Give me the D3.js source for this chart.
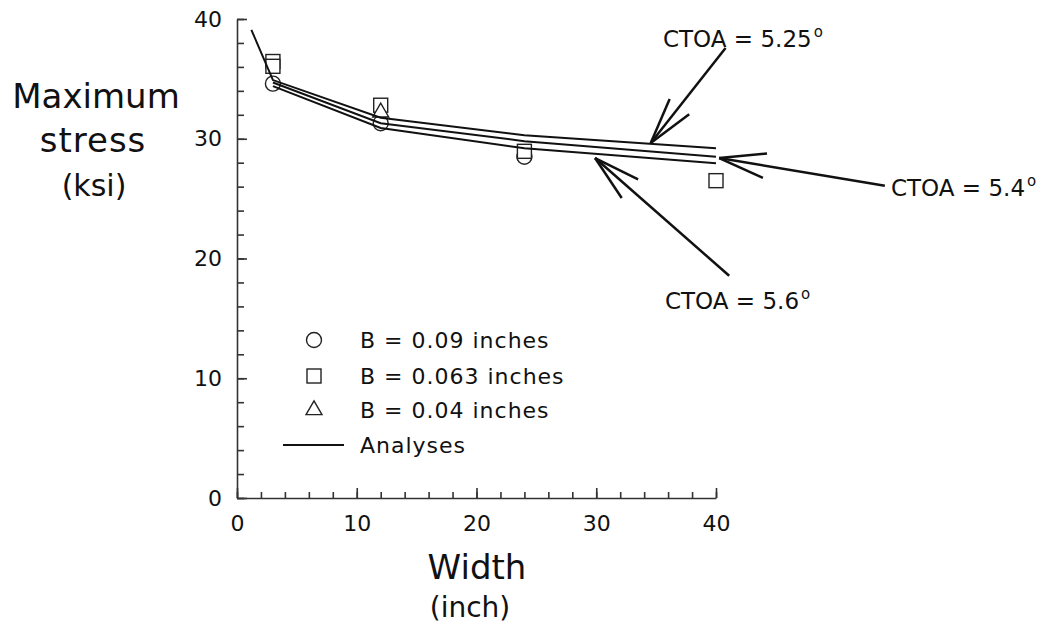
<!DOCTYPE html>
<html>
<head>
<meta charset="utf-8">
<script src="https://cdn.jsdelivr.net/npm/d3@7"></script>
<style>
  body { margin: 0; background: #fff; }
  svg text { font-family: "DejaVu Sans", sans-serif; fill: #111; }
</style>
</head>
<body>
<svg id="chart" width="1057" height="627"></svg>
<script>
// analysis curves (width in inch, max stress in ksi)
var curve525 = [[1.2, 39.1], [3, 34.9], [12, 31.75], [24, 30.3], [40, 29.2]];
var curve54  = [[3, 34.7], [12, 31.3], [24, 29.8], [40, 28.5]];
var curve56  = [[3, 34.4], [12, 30.9], [24, 29.2], [40, 27.95]];

// test data
var b009  = [[3, 34.6], [12, 31.3], [24, 28.5]];
var b0063 = [[3, 36.45], [3, 36.05], [12, 32.8], [24, 28.95], [40, 26.5]];
var b004  = [[12, 32.2]];

var xTicks = [0, 10, 20, 30, 40];
var yTicks = [0, 10, 20, 30, 40];

// annotations: label, arrow tip, arrow tail (data units)
var notes = [
  {label: "CTOA = 5.25", tip: [34.55, 29.64], tail: [40.8, 37.58]},
  {label: "CTOA = 5.4",  tip: [40.27, 28.39], tail: [54.1, 26.08]},
  {label: "CTOA = 5.6",  tip: [29.9, 28.39],  tail: [41.1, 18.56]}
];

var svg = d3.select("#chart");

var x = d3.scaleLinear().domain([0, 40]).range([237, 716]);
var y = d3.scaleLinear().domain([0, 40]).range([498, 19]);

var axisColor = "#333";

// minor ticks
svg.append("g")
    .attr("transform", "translate(0," + y(0) + ")")
    .call(d3.axisBottom(x).tickValues(d3.range(0, 41, 2)).tickSize(-6).tickSizeOuter(0).tickFormat(""))
    .call(function(g){ g.select(".domain").remove(); });
svg.append("g")
    .attr("transform", "translate(" + x(0) + ",0)")
    .call(d3.axisLeft(y).tickValues(d3.range(0, 41, 2)).tickSize(-7).tickSizeOuter(0).tickFormat(""))
    .call(function(g){ g.select(".domain").remove(); });

// main axes
var gx = svg.append("g")
    .attr("transform", "translate(0," + y(0) + ")")
    .call(d3.axisBottom(x).tickValues(xTicks).tickSize(-10).tickSizeOuter(0).tickPadding(17));
var gy = svg.append("g")
    .attr("transform", "translate(" + x(0) + ",0)")
    .call(d3.axisLeft(y).tickValues(yTicks).tickSize(-10).tickSizeOuter(0).tickPadding(15));

[gx, gy].forEach(function(g){
  g.selectAll("path, line").attr("stroke", axisColor).attr("stroke-width", 1.6);
  g.selectAll("text").style("font-size", "22px").style("font-family", "DejaVu Sans").attr("fill", "#111");
});
svg.selectAll("g line").attr("stroke", axisColor).attr("stroke-width", 1.6);

// markers (white filled, drawn under the curves)
var markers = svg.append("g");
markers.selectAll("circle.b009").data(b009).enter().append("circle")
    .attr("cx", function(d){ return x(d[0]); })
    .attr("cy", function(d){ return y(d[1]); })
    .attr("r", 7.5)
    .attr("fill", "#fff").attr("stroke", "#222").attr("stroke-width", 1.4);
markers.selectAll("rect.b0063").data(b0063).enter().append("rect")
    .attr("x", function(d){ return x(d[0]) - 7; })
    .attr("y", function(d){ return y(d[1]) - 7; })
    .attr("width", 14).attr("height", 14)
    .attr("fill", "#fff").attr("stroke", "#222").attr("stroke-width", 1.4);
var tri = d3.symbol().type(d3.symbolTriangle).size(110);
markers.selectAll("path.b004").data(b004).enter().append("path")
    .attr("d", tri)
    .attr("transform", function(d){ return "translate(" + x(d[0]) + "," + y(d[1]) + ")"; })
    .attr("fill", "#fff").attr("stroke", "#222").attr("stroke-width", 1.4);

// analysis curves
var line = d3.line().x(function(d){ return x(d[0]); }).y(function(d){ return y(d[1]); });
[curve525, curve54, curve56].forEach(function(c){
  svg.append("path").datum(c)
      .attr("d", line)
      .attr("fill", "none").attr("stroke", "#111").attr("stroke-width", 2);
});

// annotation arrows
var headLen = 48, headAng = 15 * Math.PI / 180;
notes.forEach(function(n){
  var tx = x(n.tip[0]), ty = y(n.tip[1]);
  var sx = x(n.tail[0]), sy = y(n.tail[1]);
  var a = Math.atan2(sy - ty, sx - tx);
  var g = svg.append("g").attr("stroke", "#111").attr("stroke-width", 2.5).attr("fill", "none");
  g.append("line").attr("x1", sx).attr("y1", sy).attr("x2", tx).attr("y2", ty);
  [-headAng, headAng].forEach(function(da){
    g.append("line").attr("x1", tx).attr("y1", ty)
        .attr("x2", tx + headLen * Math.cos(a + da))
        .attr("y2", ty + headLen * Math.sin(a + da));
  });
});

// annotation labels
function noteLabel(txt, px, py) {
  var t = svg.append("text").attr("x", px).attr("y", py).style("font-size", "23px");
  t.append("tspan").text(txt);
  t.append("tspan").attr("dy", -10).attr("dx", 2).style("font-size", "15px").text("o");
}
noteLabel(notes[0].label, 663, 47);
noteLabel(notes[1].label, 891, 196);
noteLabel(notes[2].label, 665, 309);

// axis titles
svg.append("text").attr("x", 96).attr("y", 108).attr("text-anchor", "middle").style("font-size", "34px").text("Maximum");
svg.append("text").attr("x", 93).attr("y", 152).attr("text-anchor", "middle").style("font-size", "34px").style("letter-spacing", "1px").text("stress");
svg.append("text").attr("x", 94).attr("y", 196).attr("text-anchor", "middle").style("font-size", "30px").text("(ksi)");
svg.append("text").attr("x", 477).attr("y", 579).attr("text-anchor", "middle").style("font-size", "34px").text("Width");
svg.append("text").attr("x", 470).attr("y", 617).attr("text-anchor", "middle").style("font-size", "28px").text("(inch)");

// legend
var legendItems = [
  {label: "B = 0.09 inches",  kind: "circle"},
  {label: "B = 0.063 inches", kind: "square"},
  {label: "B = 0.04 inches",  kind: "triangle"},
  {label: "Analyses",         kind: "line"}
];
var legendY = [340, 376, 410, 445];
var leg = svg.append("g");
legendItems.forEach(function(it, i){
  var cy = legendY[i], cx = 314;
  if (it.kind === "circle") {
    leg.append("circle").attr("cx", cx).attr("cy", cy).attr("r", 7.5)
        .attr("fill", "#fff").attr("stroke", "#222").attr("stroke-width", 1.4);
  } else if (it.kind === "square") {
    leg.append("rect").attr("x", cx - 7).attr("y", cy - 7).attr("width", 14).attr("height", 14)
        .attr("fill", "#fff").attr("stroke", "#222").attr("stroke-width", 1.4);
  } else if (it.kind === "triangle") {
    leg.append("path").attr("d", tri).attr("transform", "translate(" + cx + "," + cy + ")")
        .attr("fill", "#fff").attr("stroke", "#222").attr("stroke-width", 1.4);
  } else {
    leg.append("line").attr("x1", 283).attr("x2", 344).attr("y1", cy).attr("y2", cy)
        .attr("stroke", "#111").attr("stroke-width", 2);
  }
  leg.append("text").attr("x", 360).attr("y", cy + 8)
      .style("font-size", "22px").style("letter-spacing", "1px").text(it.label);
});
</script>
</body>
</html>
